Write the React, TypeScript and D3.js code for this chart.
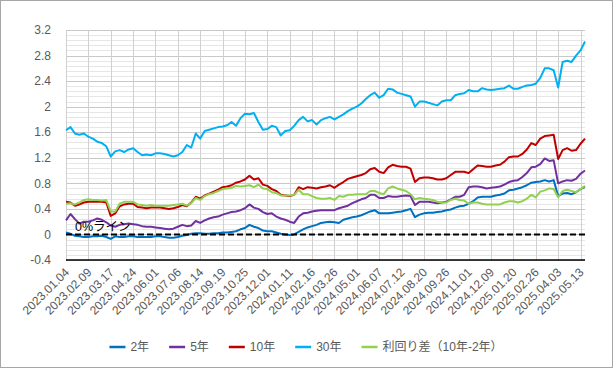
import React, { useEffect, useRef } from 'react';
import * as d3 from 'd3';

// category labels shown on the x axis (one every 25 trading days)
const tickDates: string[] = [
  '2023.01.04', '2023.02.09', '2023.03.17', '2023.04.24', '2023.06.01', '2023.07.06',
  '2023.08.14', '2023.09.19', '2023.10.25', '2023.12.01', '2024.01.11', '2024.02.16',
  '2024.03.26', '2024.05.01', '2024.06.07', '2024.07.12', '2024.08.20', '2024.09.26',
  '2024.11.01', '2024.12.09', '2025.01.20', '2025.02.26', '2025.04.03', '2025.05.13',
];

// yields in %, one reading every 5 trading days
const yield2y: number[] = [
  0.03, 0.01, -0.02, -0.03, -0.04, -0.04, -0.03, -0.03, -0.02, -0.04,
  -0.07, -0.03, -0.04, -0.04, -0.03, -0.03, -0.04, -0.04, -0.04, -0.04,
  -0.03, -0.03, -0.04, -0.05, -0.05, -0.04, -0.02, -0.01, 0.01, 0.02,
  0.02, 0.01, 0.01, 0.02, 0.02, 0.03, 0.03, 0.04, 0.05, 0.08,
  0.10, 0.15, 0.12, 0.10, 0.06, 0.05, 0.05, 0.03, 0.01, 0.0,
  -0.01, 0.0, 0.04, 0.08, 0.11, 0.13, 0.15, 0.18, 0.19, 0.20,
  0.19, 0.18, 0.23, 0.25, 0.27, 0.28, 0.30, 0.33, 0.36, 0.38,
  0.33, 0.33, 0.33, 0.34, 0.35, 0.36, 0.38, 0.40, 0.27, 0.31,
  0.33, 0.34, 0.34, 0.35, 0.36, 0.38, 0.39, 0.42, 0.44, 0.45,
  0.48, 0.52, 0.58, 0.59, 0.59, 0.59, 0.61, 0.62, 0.64, 0.69,
  0.70, 0.72, 0.74, 0.77, 0.81, 0.82, 0.83, 0.85, 0.83, 0.85,
  0.60, 0.64, 0.65, 0.63, 0.66, 0.71, 0.74,
];

const yield5y: number[] = [
  0.22, 0.32, 0.24, 0.17, 0.20, 0.20, 0.22, 0.25, 0.23, 0.19,
  0.14, 0.12, 0.15, 0.16, 0.17, 0.16, 0.15, 0.13, 0.12, 0.12,
  0.11, 0.10, 0.09, 0.08, 0.09, 0.12, 0.15, 0.13, 0.14, 0.21,
  0.18, 0.22, 0.25, 0.27, 0.28, 0.31, 0.33, 0.35, 0.36, 0.38,
  0.41, 0.47, 0.42, 0.40, 0.35, 0.32, 0.33, 0.28, 0.25, 0.23,
  0.20, 0.18, 0.28, 0.33, 0.34, 0.36, 0.37, 0.38, 0.38, 0.38,
  0.38, 0.41, 0.43, 0.45, 0.49, 0.52, 0.55, 0.57, 0.62, 0.62,
  0.57, 0.57, 0.60, 0.59, 0.59, 0.60, 0.61, 0.60, 0.46, 0.51,
  0.51, 0.51, 0.50, 0.49, 0.50, 0.51, 0.55, 0.59, 0.59, 0.62,
  0.74, 0.75, 0.75, 0.74, 0.72, 0.73, 0.74, 0.75, 0.78, 0.82,
  0.84, 0.85, 0.90, 0.96, 1.05, 1.06, 1.10, 1.19, 1.15, 1.16,
  0.80, 0.83, 0.85, 0.84, 0.87, 0.95, 1.00,
];

const yield10y: number[] = [
  0.51, 0.50, 0.45, 0.47, 0.50, 0.51, 0.51, 0.51, 0.51, 0.50,
  0.29, 0.33, 0.44, 0.47, 0.48, 0.48, 0.43, 0.42, 0.41, 0.42,
  0.42, 0.42, 0.41, 0.40, 0.41, 0.43, 0.46, 0.44, 0.50, 0.59,
  0.56, 0.61, 0.64, 0.67, 0.70, 0.74, 0.75, 0.77, 0.81, 0.83,
  0.86, 0.92, 0.86, 0.88, 0.78, 0.76, 0.71, 0.68, 0.62, 0.61,
  0.60, 0.62, 0.74, 0.71, 0.74, 0.73, 0.72, 0.74, 0.75, 0.77,
  0.73, 0.78, 0.82, 0.87, 0.89, 0.91, 0.93, 0.96, 1.02, 1.04,
  0.98, 0.96, 1.05, 1.09, 1.07, 1.06, 1.06, 1.03, 0.82, 0.88,
  0.89, 0.89, 0.88, 0.86, 0.86, 0.88, 0.93, 0.98, 0.98, 0.98,
  0.96, 1.02, 1.08, 1.07, 1.06, 1.06, 1.08, 1.09, 1.14, 1.21,
  1.22, 1.22, 1.26, 1.33, 1.43, 1.40, 1.50, 1.54, 1.55, 1.56,
  1.18, 1.32, 1.35, 1.31, 1.32, 1.42, 1.50,
];

const yield30y: number[] = [
  1.63, 1.68, 1.58, 1.56, 1.58, 1.53, 1.50, 1.45, 1.43, 1.38,
  1.22, 1.30, 1.32, 1.29, 1.33, 1.35, 1.29, 1.24, 1.25, 1.24,
  1.27, 1.27, 1.26, 1.24, 1.22, 1.24, 1.29, 1.40, 1.36, 1.58,
  1.50, 1.62, 1.64, 1.66, 1.68, 1.69, 1.71, 1.76, 1.70, 1.82,
  1.89, 1.88, 1.90, 1.76, 1.64, 1.65, 1.70, 1.68, 1.55, 1.62,
  1.63, 1.70, 1.79, 1.84, 1.77, 1.79, 1.72, 1.79, 1.82, 1.84,
  1.80, 1.84, 1.88, 1.93, 1.97, 2.00, 2.05, 2.12, 2.18, 2.22,
  2.14, 2.18, 2.28, 2.27, 2.22, 2.20, 2.18, 2.16, 2.00, 2.08,
  2.08, 2.06, 2.04, 2.02, 2.08, 2.10, 2.10, 2.18, 2.20, 2.21,
  2.26, 2.24, 2.24, 2.29, 2.27, 2.26, 2.27, 2.28, 2.29, 2.33,
  2.28, 2.28, 2.31, 2.33, 2.34, 2.36, 2.45, 2.60, 2.60, 2.57,
  2.30, 2.70, 2.72, 2.70, 2.80, 2.88, 3.02,
];

// 10y - 2y spread as plotted
const spread10y2y: number[] = [
  0.48, 0.49, 0.47, 0.50, 0.54, 0.55, 0.54, 0.54, 0.53, 0.54,
  0.36, 0.36, 0.48, 0.51, 0.51, 0.51, 0.47, 0.46, 0.45, 0.46,
  0.45, 0.45, 0.45, 0.45, 0.46, 0.47, 0.48, 0.45, 0.49, 0.57,
  0.54, 0.60, 0.63, 0.65, 0.68, 0.71, 0.72, 0.73, 0.76, 0.75,
  0.76, 0.77, 0.74, 0.78, 0.72, 0.71, 0.66, 0.65, 0.61, 0.61,
  0.61, 0.62, 0.70, 0.63, 0.63, 0.60, 0.57, 0.56, 0.56, 0.57,
  0.54, 0.60, 0.59, 0.62, 0.62, 0.63, 0.63, 0.63, 0.68, 0.68,
  0.65, 0.63, 0.72, 0.75, 0.72, 0.70, 0.68, 0.63, 0.55, 0.57,
  0.56, 0.55, 0.54, 0.51, 0.50, 0.50, 0.54, 0.56, 0.54, 0.53,
  0.48, 0.50, 0.50, 0.48, 0.47, 0.47, 0.47, 0.47, 0.50, 0.52,
  0.52, 0.50, 0.52, 0.56, 0.62, 0.58, 0.67, 0.69, 0.72, 0.71,
  0.58, 0.68, 0.70, 0.68, 0.66, 0.71, 0.76,
];

const seriesNames: string[] = ['2年', '5年', '10年', '30年', '利回り差（10年-2年）'];
const seriesColors: string[] = ['#0070C0', '#7030A0', '#C00000', '#00B0F0', '#92D050'];
const zeroLabel = '0%ライン';

const DAYS_PER_SAMPLE = 5;
const DAYS_PER_TICK = 25;
const FONT = "'Liberation Sans', 'Noto Sans CJK JP', sans-serif";

const App: React.FC = () => {
  const chartRef = useRef<SVGSVGElement | null>(null);

  useEffect(() => {
    if (!chartRef.current) return;
    const width = 615;
    const height = 371;

    const svg = d3.select(chartRef.current).attr('width', width).attr('height', height);
    svg.selectAll('*').remove();

    // chart area with border
    svg
      .append('rect')
      .attr('x', 0.5)
      .attr('y', 0.5)
      .attr('width', 612)
      .attr('height', 367)
      .attr('fill', '#fff')
      .attr('stroke', '#A6A6A6');

    const series = [yield2y, yield5y, yield10y, yield30y, spread10y2y];
    const lastDay = (yield2y.length - 1) * DAYS_PER_SAMPLE;

    const x = d3.scaleLinear().domain([0, lastDay]).range([66, 585]);
    const y = d3.scaleLinear().domain([-0.4, 3.2]).range([260, 30]);

    // gridlines
    const minor = d3.range(0, 46).map((i) => +(-0.4 + i * 0.08).toFixed(2));
    const grid = svg.append('g');
    grid
      .selectAll('.minor')
      .data(minor)
      .enter()
      .append('line')
      .attr('x1', x(0))
      .attr('x2', x(lastDay))
      .attr('y1', (d) => Math.round(y(d)) + 0.5)
      .attr('y2', (d) => Math.round(y(d)) + 0.5)
      .attr('stroke', (_, i) => (i % 5 === 0 ? '#C8C8C8' : '#E6E6E6'))
      .attr('stroke-width', 1);

    const tickDays = tickDates.map((_, i) => i * DAYS_PER_TICK);
    grid
      .selectAll('.vgrid')
      .data(tickDays)
      .enter()
      .append('line')
      .attr('x1', (d) => Math.round(x(d)) + 0.5)
      .attr('x2', (d) => Math.round(x(d)) + 0.5)
      .attr('y1', y(3.2))
      .attr('y2', y(-0.4))
      .attr('stroke', '#D0D0D0');

    // x axis baseline
    svg
      .append('line')
      .attr('x1', x(0))
      .attr('x2', x(lastDay))
      .attr('y1', y(-0.4))
      .attr('y2', y(-0.4))
      .attr('stroke', '#000')
      .attr('stroke-width', 1.5);

    // y tick labels
    const yTicks = d3.range(0, 10).map((i) => +(-0.4 + i * 0.4).toFixed(1));
    svg
      .selectAll('.ylab')
      .data(yTicks)
      .enter()
      .append('text')
      .text((d) => String(d))
      .attr('x', 51)
      .attr('y', (d) => y(d))
      .attr('dy', '0.35em')
      .attr('text-anchor', 'end')
      .attr('font-family', FONT)
      .attr('font-size', 12)
      .attr('fill', '#595959');

    // x tick labels, rotated
    svg
      .selectAll('.xlab')
      .data(tickDates)
      .enter()
      .append('text')
      .text((d) => d)
      .attr('transform', (_, i) => `translate(${x(tickDays[i]) + 4},${273}) rotate(-45)`)
      .attr('text-anchor', 'end')
      .attr('font-family', FONT)
      .attr('font-size', 12)
      .attr('fill', '#595959');

    // series lines
    const line = d3
      .line<number>()
      .x((_, i) => x(i * DAYS_PER_SAMPLE))
      .y((d) => y(d));

    series.forEach((s, k) => {
      svg
        .append('path')
        .datum(s)
        .attr('d', line)
        .attr('fill', 'none')
        .attr('stroke', seriesColors[k])
        .attr('stroke-width', 2)
        .attr('stroke-linejoin', 'round');
    });

    // 0% line
    svg
      .append('line')
      .attr('x1', x(0))
      .attr('x2', x(lastDay))
      .attr('y1', y(0))
      .attr('y2', y(0))
      .attr('stroke', '#000')
      .attr('stroke-width', 2)
      .attr('stroke-dasharray', '6,3');

    svg
      .append('text')
      .text(zeroLabel)
      .attr('x', x(0) + 9)
      .attr('y', y(0) - 3)
      .attr('font-family', FONT)
      .attr('font-size', 12.5)
      .attr('fill', '#000');

    // legend
    const legend = svg.append('g');
    const items = seriesNames.map((name, k) => {
      const g = legend.append('g');
      g.append('line')
        .attr('x1', 0)
        .attr('x2', 16)
        .attr('y1', 0)
        .attr('y2', 0)
        .attr('stroke', seriesColors[k])
        .attr('stroke-width', 2.5);
      const t = g
        .append('text')
        .text(name)
        .attr('x', 21)
        .attr('y', 0)
        .attr('dy', '0.35em')
        .attr('font-family', FONT)
        .attr('font-size', 12)
        .attr('fill', '#595959');
      const w = 21 + (t.node() as SVGTextElement).getComputedTextLength();
      return { g, w };
    });
    const gap = 20;
    const total = d3.sum(items, (d) => d.w) + gap * (items.length - 1);
    let cx = 306 - total / 2;
    items.forEach((it) => {
      it.g.attr('transform', `translate(${cx},347)`);
      cx += it.w + gap;
    });
  }, []);

  return <svg ref={chartRef} style={{ position: 'absolute', left: 0, top: 0, display: 'block' }}></svg>;
};

export default App;
